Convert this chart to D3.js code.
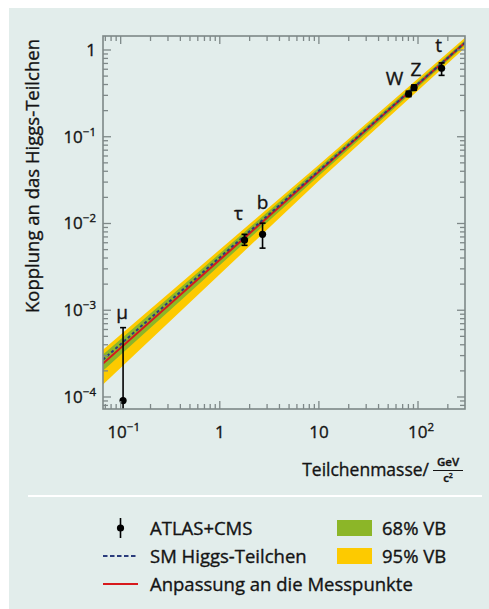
<!DOCTYPE html>
<html><head><meta charset="utf-8">
<script src="https://cdn.jsdelivr.net/npm/d3@7/dist/d3.min.js"></script>
<style>
html,body{margin:0;padding:0;background:#fff;}
svg{display:block;font-family:"Open Sans","Noto Sans",sans-serif;}
text{stroke:#141414;stroke-width:0.35px;}
</style></head>
<body>
<svg id="chart" width="489" height="609"></svg>
<script>
// ---- data ----
const particles = ["μ", "τ", "b", "W", "Z", "t"];
const masses = [0.1057, 1.777, 2.7, 80.4, 91.2, 173];
const couplings = [9.1e-5, 6.45e-3, 7.5e-3, 0.311, 0.368, 0.615];
const errLow = [2.0e-5, 5.6e-3, 5.2e-3, 0.29, 0.345, 0.51];
const errHigh = [6.3e-4, 7.5e-3, 1.01e-2, 0.335, 0.395, 0.71];
// band / line offsets (log10) relative to SM at masses bandMass
const bandMass = [0.0663, 10, 298];
const smVev = 246;
const fitOffset = [-0.046, -0.012, 0.0];
const g68Upper = [0.058, 0.035, 0.029];
const g68Lower = [-0.127, -0.058, -0.029];
const y95Upper = [0.115, 0.069, 0.058];
const y95Lower = [-0.288, -0.115, -0.058];
const xTickLabels = [[0.1, "10", "−1"], [1, "1", ""], [10, "10", ""], [100, "10", "2"]];
const yTickLabels = [[1, "1", ""], [0.1, "10", "−1"], [0.01, "10", "−2"], [0.001, "10", "−3"], [0.0001, "10", "−4"]];
const legendItems = ["ATLAS+CMS", "SM Higgs-Teilchen", "Anpassung an die Messpunkte"];
const legendBands = ["68% VB", "95% VB"];

// ---- styles ----
const C = {bg: "#e2edeb", axis: "#7e8888", green: "#8cb628", yellow: "#fdca00", red: "#d7191c", navy: "#2a3c7c", text: "#141414"};
const FW = 500;

const svg = d3.select("#chart");
svg.append("rect").attr("x", 9).attr("y", 8).attr("width", 480).attr("height", 601).attr("fill", C.bg);

const L = 103, R = 465, T = 36, B = 409;
const x = d3.scaleLog().domain([0.0663, 298]).range([L, R]);
const y = d3.scaleLog().domain([1.45, 7.27e-5]).range([T, B]);

svg.append("defs").append("clipPath").attr("id", "clip")
  .append("rect").attr("x", L).attr("y", T).attr("width", R - L).attr("height", B - T);
const plot = svg.append("g").attr("clip-path", "url(#clip)");

const sm = m => m / smVev;
const pts = offs => bandMass.map((m, i) => [m, sm(m) * Math.pow(10, offs[i])]);
function band(up, lo, color) {
  const u = pts(up), l = pts(lo);
  const area = d3.area().x(d => x(d[0])).y0((d, i) => y(l[i][1])).y1(d => y(d[1])).curve(d3.curveLinear);
  plot.append("path").datum(u).attr("d", area).attr("fill", color);
}
band(y95Upper, y95Lower, C.yellow);
band(g68Upper, g68Lower, C.green);

const line = d3.line().x(d => x(d[0])).y(d => y(d[1]));
plot.append("path").datum(pts(fitOffset)).attr("d", line).attr("fill", "none")
  .attr("stroke", C.red).attr("stroke-width", 2);
plot.append("path").datum([[0.0663, sm(0.0663)], [298, sm(298)]]).attr("d", line).attr("fill", "none")
  .attr("stroke", C.navy).attr("stroke-width", 2).attr("stroke-dasharray", "3,2.5");

// data points
particles.forEach((p, i) => {
  const cx = x(masses[i]);
  plot.append("line").attr("x1", cx).attr("x2", cx).attr("y1", y(errLow[i])).attr("y2", y(errHigh[i]))
    .attr("stroke", "#000").attr("stroke-width", 1.6);
  [errLow[i], errHigh[i]].forEach(v => plot.append("line").attr("x1", cx - 3).attr("x2", cx + 3)
    .attr("y1", y(v)).attr("y2", y(v)).attr("stroke", "#000").attr("stroke-width", 1.6));
  plot.append("circle").attr("cx", cx).attr("cy", y(couplings[i])).attr("r", 3.6).attr("fill", "#000");
});

// particle labels
const labelPos = {"μ": [-1, -9], "τ": [-6, -20], "b": [0, -25], "W": [-14, -9], "Z": [2, -12], "t": [-3, -16]};
particles.forEach((p, i) => {
  const lp = labelPos[p];
  svg.append("text").attr("x", x(masses[i]) + lp[0]).attr("y", y(i === 0 ? errHigh[i] : couplings[i]) + lp[1])
    .attr("text-anchor", "middle").attr("font-size", 19).attr("font-weight", FW).attr("fill", C.text).text(p);
});

// frame
svg.append("rect").attr("x", L).attr("y", T).attr("width", R - L).attr("height", B - T)
  .attr("fill", "none").attr("stroke", C.axis).attr("stroke-width", 1.6);

// ticks
const xt = [], yt = [];
for (let e = -2; e <= 2; e++) for (let k = 1; k <= 9; k++) {
  const v = k * Math.pow(10, e);
  if (v >= 0.0663 && v <= 298) xt.push([v, k === 1]);
}
for (let e = -5; e <= 0; e++) for (let k = 1; k <= 9; k++) {
  const v = k * Math.pow(10, e);
  if (v >= 7.27e-5 && v <= 1.45) yt.push([v, k === 1]);
}
const tk = svg.append("g").attr("stroke", C.axis).attr("stroke-width", 1.3);
xt.forEach(([v, maj]) => {
  const len = maj ? 8 : 5, px = x(v);
  tk.append("line").attr("x1", px).attr("x2", px).attr("y1", B).attr("y2", B - len);
  tk.append("line").attr("x1", px).attr("x2", px).attr("y1", T).attr("y2", T + len);
});
yt.forEach(([v, maj]) => {
  const len = maj ? 8 : 5, py = y(v);
  tk.append("line").attr("x1", L).attr("x2", L + len).attr("y1", py).attr("y2", py);
  tk.append("line").attr("x1", R).attr("x2", R - len).attr("y1", py).attr("y2", py);
});

// tick labels
function supLabel(g, base, sup) {
  g.append("tspan").text(base);
  if (sup) g.append("tspan").attr("font-size", 11.5).attr("dy", -7).text(sup);
}
xTickLabels.forEach(([v, b, s]) => {
  const t = svg.append("text").attr("x", x(v) + (s ? 3 : 0)).attr("y", 438).attr("text-anchor", "middle")
    .attr("font-size", 17).attr("font-weight", FW).attr("fill", C.text);
  supLabel(t, b, s);
});
yTickLabels.forEach(([v, b, s]) => {
  const t = svg.append("text").attr("x", 96).attr("y", y(v) + 6).attr("text-anchor", "end")
    .attr("font-size", 17).attr("font-weight", FW).attr("fill", C.text);
  supLabel(t, b, s);
});

// axis titles
svg.append("text").attr("transform", "translate(39,176) rotate(-90)").attr("text-anchor", "middle")
  .attr("font-size", 18.5).attr("font-weight", FW).attr("fill", C.text).text("Kopplung an das Higgs-Teilchen");
svg.append("text").attr("x", 429).attr("y", 476).attr("text-anchor", "end").attr("font-size", 17.5)
  .attr("font-weight", FW).attr("fill", C.text).text("Teilchenmasse/");
svg.append("text").attr("x", 448).attr("y", 466).attr("text-anchor", "middle").attr("font-size", 11.5)
  .attr("font-weight", 600).attr("fill", C.text).text("GeV");
svg.append("line").attr("x1", 433).attr("x2", 463).attr("y1", 470.5).attr("y2", 470.5)
  .attr("stroke", C.text).attr("stroke-width", 1);
const cs = svg.append("text").attr("x", 448).attr("y", 482).attr("text-anchor", "middle").attr("font-size", 11.5)
  .attr("font-weight", 600).attr("fill", C.text);
cs.append("tspan").text("c");
cs.append("tspan").attr("font-size", 7).attr("dy", -4).text("2");

// legend
svg.append("line").attr("x1", 28).attr("x2", 482).attr("y1", 496).attr("y2", 496)
  .attr("stroke", "#fff").attr("stroke-width", 2);
const rowY = [528, 556, 584];
legendItems.forEach((t, i) => svg.append("text").attr("x", 150).attr("y", rowY[i] + 6.5).attr("font-size", 18.5)
  .attr("font-weight", FW).attr("fill", C.text).text(t));
svg.append("line").attr("x1", 120.5).attr("x2", 120.5).attr("y1", 518).attr("y2", 538)
  .attr("stroke", "#000").attr("stroke-width", 1.6);
svg.append("circle").attr("cx", 120.5).attr("cy", 528).attr("r", 3.6).attr("fill", "#000");
svg.append("line").attr("x1", 103).attr("x2", 138).attr("y1", rowY[1]).attr("y2", rowY[1])
  .attr("stroke", C.navy).attr("stroke-width", 2).attr("stroke-dasharray", "4.5,2.5");
svg.append("line").attr("x1", 103).attr("x2", 138).attr("y1", rowY[2]).attr("y2", rowY[2])
  .attr("stroke", C.red).attr("stroke-width", 2.2);
[C.green, C.yellow].forEach((c, i) => {
  svg.append("rect").attr("x", 337).attr("y", rowY[i] - 8).attr("width", 35).attr("height", 16).attr("fill", c);
  svg.append("text").attr("x", 382).attr("y", rowY[i] + 6.5).attr("font-size", 18.5).attr("font-weight", FW)
    .attr("fill", C.text).text(legendBands[i]);
});
</script>
</body></html>
